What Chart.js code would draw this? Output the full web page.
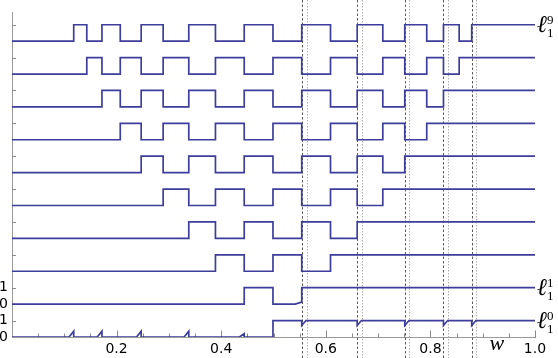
<!DOCTYPE html>
<html>
<head>
<meta charset="utf-8">
<script src="https://cdn.jsdelivr.net/npm/chart.js@4/dist/chart.umd.min.js"></script>
<style>
html,body{margin:0;padding:0;background:#fff;}
#c{display:block;}
</style>
</head>
<body>
<canvas id="c" width="558" height="358"></canvas>
<script>
// ---- data (w positions where each signal toggles) ----
const edges9 = [0.118,0.143,0.172,0.207,0.247,0.289,0.338,0.389,0.444,0.499,0.554,0.609,0.660,0.709,0.751,0.793,0.825,0.855,0.879];
const edges8 = [0.143,0.172,0.207,0.247,0.289,0.338,0.389,0.444,0.499,0.554,0.609,0.660,0.709,0.751,0.793,0.825,0.855];
const edges7 = [0.172,0.207,0.247,0.289,0.338,0.389,0.444,0.499,0.554,0.609,0.660,0.709,0.751,0.793,0.825];
const edges6 = [0.207,0.247,0.289,0.338,0.389,0.444,0.499,0.554,0.609,0.660,0.709,0.751,0.793];
const edges5 = [0.247,0.289,0.338,0.389,0.444,0.499,0.554,0.609,0.660,0.709,0.751];
const edges4 = [0.289,0.338,0.389,0.444,0.499,0.554,0.609,0.660,0.709];
const edges3 = [0.338,0.389,0.444,0.499,0.554,0.609,0.660];
const edges2 = [0.389,0.444,0.499,0.554,0.609];
const edges1 = [0.444,0.499,0.554];
const edges0 = [0.499];
// small glitches on the two bottom signals
const l0SpikeX = [0.118,0.172,0.247,0.338,0.444];
const l0SpikeH = [0.35,0.35,0.35,0.35,0.2];
const l0DipX = [0.554,0.660,0.751,0.825,0.879];
const l0DipD = [0.3,0.3,0.3,0.3,0.3];
const l1RampX = [0.5535];
const l1RampH = [0.12];
// vertical guide lines
const guideDark = [0.554,0.660,0.751,0.825,0.879];
const guideLight = [0.564,0.670,0.759,0.833,0.888];
// axes
const xTickValues = [0.2,0.4,0.6,0.8,1.0];
const xTickLabels = ['0.2','0.4','0.6','0.8','1.0'];
const xMinorTicks = [0.05,0.1,0.15,0.2,0.25,0.3,0.35,0.4,0.45,0.5,0.55,0.6,0.65,0.7,0.75,0.8,0.85,0.9,0.95,1.0];
const xMajorTicks = [0.2,0.4,0.6,0.8,1.0];
const yTickValues = [0,1,2,3,4,5,6,7,8,9,10,11,12,13,14,15,16,17,18,19];
const yTickLabels = ['0','1','0','1','','','','','','','','','','','','','','','',''];
const yMarkValues = [1,3,5,7,9,11,13,15,17,19];
const rightLabelSeries = [9,1,0];
const rightLabelSup = ['9','1','0'];
const axisTitle = 'w';

const LINE = '#3d3d9c';

function buildSeries(base, edges, extras){
  const ev = edges.map(e=>({x:e,kind:'edge'})).concat(extras||[]).sort((a,b)=>a.x-b.x);
  let s = 0;
  const pts = [{x:0,y:base}];
  for (const e of ev){
    if (e.kind==='edge'){
      pts.push({x:e.x,y:pts[pts.length-1].y});
      s = 1-s;
      pts.push({x:e.x,y:base+s});
    } else if (e.kind==='spike'){
      pts.push({x:e.x-0.009,y:base+s});
      pts.push({x:e.x,y:base+s+e.h});
      pts.push({x:e.x,y:base+s});
    } else if (e.kind==='dip'){
      pts.push({x:e.x,y:base+s});
      pts.push({x:e.x,y:base+s-e.h});
      pts.push({x:e.x+0.008,y:base+s});
    } else if (e.kind==='ramp'){
      pts.push({x:e.x-0.012,y:base+s});
      pts.push({x:e.x,y:base+s+e.h});
    }
  }
  pts.push({x:1,y:pts[pts.length-1].y});
  return pts;
}

const l0Extras = l0SpikeX.map((x,i)=>({x,kind:'spike',h:l0SpikeH[i]}))
  .concat(l0DipX.map((x,i)=>({x,kind:'dip',h:l0DipD[i]})));
const l1Extras = l1RampX.map((x,i)=>({x,kind:'ramp',h:l1RampH[i]}));

const allEdges = [edges0,edges1,edges2,edges3,edges4,edges5,edges6,edges7,edges8,edges9];
const datasets = allEdges.map((ed,k)=>({
  label:'l'+k,
  data: buildSeries(2*k, ed, k===0?l0Extras:(k===1?l1Extras:[])),
  showLine:true,
  borderColor:LINE,
  borderWidth:1.7,
  pointRadius:0,
  fill:false,
  tension:0
}));

const overlay = {
  id:'overlay',
  beforeDatasetsDraw(chart){
    const {ctx, scales:{x,y}, chartArea} = chart;
    ctx.save();
    ctx.lineWidth = 1;
    guideLight.forEach(v=>{
      const px = Math.round(x.getPixelForValue(v))+0.5;
      ctx.strokeStyle='#b0b0b0'; ctx.setLineDash([1.5,1.5]);
      ctx.beginPath(); ctx.moveTo(px,0); ctx.lineTo(px,chart.height); ctx.stroke();
    });
    guideDark.forEach(v=>{
      const px = Math.round(x.getPixelForValue(v))+0.5;
      ctx.strokeStyle='#5a5a5a'; ctx.setLineDash([2.5,2]);
      ctx.beginPath(); ctx.moveTo(px,0); ctx.lineTo(px,chart.height); ctx.stroke();
    });
    ctx.setLineDash([]);
    ctx.strokeStyle='#8a8a8a';
    // x ticks pointing inward
    const by = Math.round(y.getPixelForValue(0))+0.5;
    xMinorTicks.forEach(v=>{
      const px = Math.round(x.getPixelForValue(v))+0.5;
      const len = xMajorTicks.some(m=>Math.abs(m-v)<1e-9) ? 7 : 4;
      ctx.beginPath(); ctx.moveTo(px,by); ctx.lineTo(px,by-len); ctx.stroke();
    });
    // y ticks pointing inward
    const lx = chartArea.left;
    yMarkValues.forEach(v=>{
      const py = Math.round(y.getPixelForValue(v))+0.5;
      ctx.beginPath(); ctx.moveTo(lx,py); ctx.lineTo(lx+4,py); ctx.stroke();
    });
    ctx.restore();
  },
  afterDraw(chart){
    const {ctx, scales:{x,y}, chartArea} = chart;
    ctx.save();
    ctx.fillStyle='#000';
    rightLabelSeries.forEach((k,i)=>{
      const py = y.getPixelForValue(2*k+1);
      const px = chartArea.right + 2;
      ctx.font = 'italic 24px "Liberation Serif"';
      ctx.textBaseline = 'alphabetic';
      ctx.textAlign = 'left';
      ctx.fillText('\u2113', px, py+7);
      ctx.font = '13px "Liberation Serif"';
      ctx.fillText(rightLabelSup[i], px+10, py-1);
      ctx.fillText('1', px+10, py+12);
    });
    ctx.font = 'italic 22px "Liberation Serif"';
    ctx.textAlign='center';
    ctx.textBaseline='alphabetic';
    ctx.fillText(axisTitle, x.getPixelForValue(0.927), chart.height-8);
    ctx.restore();
  }
};

new Chart(document.getElementById('c'), {
  type:'scatter',
  data:{datasets},
  options:{
    responsive:false,
    animation:false,
    devicePixelRatio:1,
    layout:{padding:{left:0,right:23,top:0,bottom:0}},
    plugins:{legend:{display:false},tooltip:{enabled:false}},
    scales:{
      x:{
        type:'linear', min:0, max:1,
        afterBuildTicks:s=>{ s.ticks = xTickValues.map(v=>({value:v})); },
        afterFit:s=>{ s.height = 21; },
        ticks:{
          callback:(v,i)=>xTickLabels[i],
          font:{family:'DejaVu Sans',size:14},
          color:'#000', padding:4, maxRotation:0, autoSkip:false
        },
        grid:{display:false, drawTicks:false},
        border:{display:true, color:'#9a9a9a', width:1}
      },
      y:{
        type:'linear', min:0, max:19.75,
        afterBuildTicks:s=>{ s.ticks = yTickValues.map(v=>({value:v})); },
        afterFit:s=>{ s.width = 12; },
        ticks:{
          callback:(v,i)=>yTickLabels[i],
          font:{family:'DejaVu Sans',size:14},
          color:'#000', padding:4, autoSkip:false
        },
        grid:{display:false, drawTicks:false},
        border:{display:true, color:'#9a9a9a', width:1}
      }
    }
  },
  plugins:[overlay]
});
</script>
</body>
</html>
